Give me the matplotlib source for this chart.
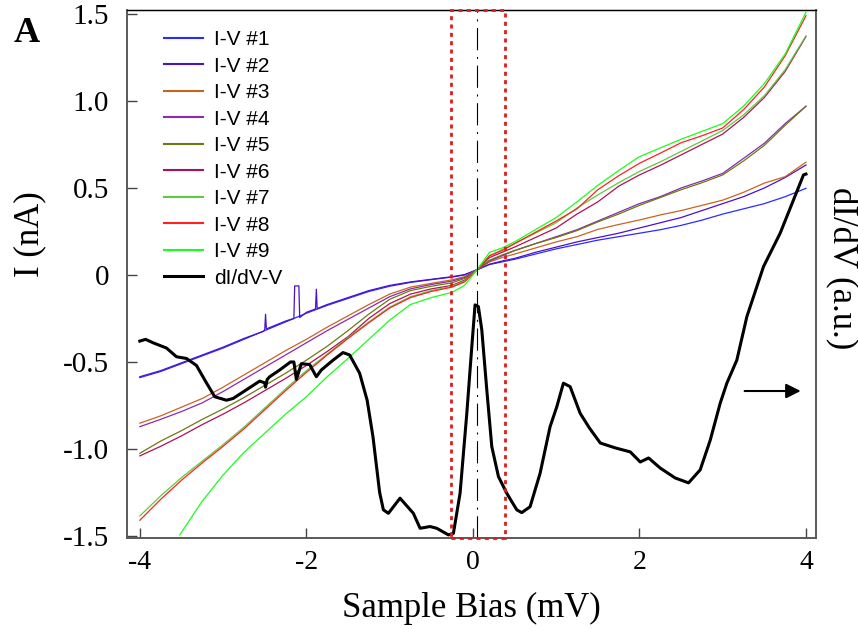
import numpy as np
import matplotlib
matplotlib.use("Agg")
import matplotlib.pyplot as plt
from matplotlib.patches import Rectangle

plt.rcParams['font.family'] = ['Liberation Serif', 'DejaVu Serif']
plt.rcParams['axes.unicode_minus'] = False

# ---- data ----
bias = [-4.0, -3.75, -3.5, -3.25, -3.0, -2.75, -2.5, -2.25, -2.0, -1.75, -1.5, -1.25,
        -1.0, -0.75, -0.5, -0.25, -0.1, 0.05, 0.2, 0.35, 0.5, 0.75, 1.0, 1.25,
        1.5, 1.75, 2.0, 2.25, 2.5, 2.75, 3.0, 3.25, 3.5, 3.75, 4.0]

iv1 = [-0.59, -0.555, -0.51, -0.465, -0.42, -0.37, -0.32, -0.27, -0.22, -0.175, -0.135, -0.095,
       -0.065, -0.043, -0.027, -0.012, 0.0, 0.03, 0.06, 0.075, 0.09, 0.12, 0.15, 0.175,
       0.20, 0.22, 0.24, 0.26, 0.285, 0.315, 0.35, 0.38, 0.41, 0.45, 0.498]

# I-V #2 has its own points because of the spikes on the negative side
bias2 = [-4.0, -3.75, -3.5, -3.25, -3.0, -2.75, -2.52, -2.5, -2.49, -2.48, -2.25, -2.15,
         -2.14, -2.09, -2.08, -2.0, -1.89, -1.88, -1.87, -1.75, -1.5, -1.25,
         -1.0, -0.75, -0.5, -0.25, -0.1, 0.05, 0.2, 0.35, 0.5, 0.75, 1.0, 1.25,
         1.5, 1.75, 2.0, 2.25, 2.5, 2.75, 3.0, 3.25, 3.5, 3.75, 4.0]
iv2 = [-0.585, -0.55, -0.505, -0.46, -0.415, -0.365, -0.325, -0.316, -0.226, -0.31, -0.265, -0.25,
       -0.063, -0.063, -0.245, -0.215, -0.195, -0.082, -0.193, -0.17, -0.13, -0.09,
       -0.06, -0.04, -0.025, -0.01, 0.002, 0.03, 0.062, 0.08, 0.095, 0.13, 0.16, 0.19,
       0.215, 0.24, 0.27, 0.30, 0.33, 0.37, 0.41, 0.45, 0.50, 0.56, 0.632]

iv3 = [-0.852, -0.81, -0.76, -0.71, -0.645, -0.575, -0.505, -0.435, -0.37, -0.30, -0.235, -0.17,
       -0.11, -0.07, -0.048, -0.028, -0.01, 0.03, 0.075, 0.10, 0.12, 0.155, 0.19, 0.22,
       0.262, 0.29, 0.316, 0.345, 0.37, 0.40, 0.43, 0.475, 0.528, 0.565, 0.648]

iv4 = [-0.872, -0.83, -0.785, -0.735, -0.67, -0.60, -0.53, -0.46, -0.39, -0.32, -0.255, -0.19,
       -0.125, -0.08, -0.055, -0.035, -0.015, 0.03, 0.08, 0.11, 0.14, 0.18, 0.22, 0.26,
       0.31, 0.36, 0.41, 0.45, 0.50, 0.54, 0.584, 0.67, 0.757, 0.87, 0.97]

iv5 = [-1.025, -0.955, -0.895, -0.83, -0.77, -0.705, -0.635, -0.565, -0.49, -0.41, -0.32, -0.225,
       -0.14, -0.09, -0.065, -0.045, -0.02, 0.03, 0.085, 0.115, 0.14, 0.18, 0.215, 0.255,
       0.305, 0.35, 0.40, 0.445, 0.49, 0.53, 0.575, 0.655, 0.745, 0.86, 0.97]

iv6 = [-1.04, -0.985, -0.925, -0.86, -0.80, -0.735, -0.665, -0.595, -0.52, -0.44, -0.355, -0.25,
       -0.165, -0.11, -0.08, -0.06, -0.03, 0.03, 0.10, 0.13, 0.16, 0.215, 0.27, 0.35,
       0.42, 0.51, 0.575, 0.63, 0.69, 0.75, 0.81, 0.905, 1.02, 1.17, 1.37]

iv7 = [-1.385, -1.27, -1.165, -1.07, -0.975, -0.875, -0.765, -0.655, -0.55, -0.455, -0.36, -0.27,
       -0.185, -0.125, -0.09, -0.065, -0.035, 0.03, 0.11, 0.145, 0.18, 0.24, 0.30, 0.385,
       0.46, 0.53, 0.595, 0.65, 0.71, 0.77, 0.83, 0.92, 1.03, 1.18, 1.375]

iv8 = [-1.41, -1.29, -1.18, -1.08, -0.985, -0.885, -0.775, -0.665, -0.56, -0.46, -0.365, -0.275,
       -0.19, -0.13, -0.095, -0.07, -0.04, 0.03, 0.11, 0.14, 0.18, 0.245, 0.31, 0.38,
       0.49, 0.57, 0.642, 0.70, 0.76, 0.80, 0.845, 0.95, 1.08, 1.26, 1.49]

bias9 = [-3.52, -3.25, -3.0, -2.75, -2.5, -2.25, -2.0, -1.75, -1.5, -1.25,
         -1.0, -0.75, -0.5, -0.25, -0.1, 0.05, 0.2, 0.35, 0.5, 0.75, 1.0, 1.25,
         1.5, 1.75, 2.0, 2.25, 2.5, 2.75, 3.0, 3.25, 3.5, 3.75, 4.0]
iv9 = [-1.494, -1.30, -1.15, -1.02, -0.91, -0.80, -0.70, -0.585, -0.48, -0.37,
       -0.26, -0.17, -0.13, -0.10, -0.06, 0.03, 0.13, 0.155, 0.19, 0.26, 0.33, 0.42,
       0.515, 0.60, 0.68, 0.73, 0.78, 0.825, 0.87, 0.97, 1.10, 1.27, 1.51]

didv_bias = [-4.0, -3.93, -3.84, -3.68, -3.56, -3.44, -3.32, -3.2, -3.1, -2.96,
             -2.88, -2.72, -2.56, -2.5, -2.49, -2.47, -2.44, -2.32, -2.19, -2.15,
             -2.12, -2.06, -1.96, -1.88, -1.82, -1.68, -1.56, -1.48, -1.36, -1.27,
             -1.2, -1.12, -1.075, -1.015, -0.875, -0.715, -0.634, -0.514, -0.434, -0.294,
             -0.234, -0.154, -0.073, -0.013, 0.026, 0.066, 0.107, 0.167, 0.227, 0.307,
             0.407, 0.527, 0.587, 0.687, 0.807, 0.927, 1.008, 1.087, 1.168, 1.288,
             1.4, 1.53, 1.71, 1.89, 2.01, 2.11, 2.25, 2.43, 2.59, 2.73,
             2.85, 2.97, 3.05, 3.17, 3.29, 3.49, 3.69, 3.85, 3.97, 4.0]
didv = [-0.38, -0.37, -0.39, -0.42, -0.47, -0.48, -0.52, -0.62, -0.70, -0.72,
        -0.71, -0.66, -0.61, -0.62, -0.645, -0.60, -0.585, -0.546, -0.50, -0.50,
        -0.60, -0.51, -0.515, -0.585, -0.546, -0.49, -0.446, -0.46, -0.565, -0.72,
        -0.93, -1.25, -1.35, -1.37, -1.283, -1.37, -1.456, -1.446, -1.456, -1.494,
        -1.485, -1.255, -0.795, -0.412, -0.172, -0.182, -0.316, -0.661, -0.987, -1.159,
        -1.255, -1.35, -1.366, -1.332, -1.14, -0.872, -0.757, -0.622, -0.642, -0.795,
        -0.88, -0.966, -0.994, -1.017, -1.075, -1.052, -1.11, -1.167, -1.195, -1.12,
        -0.95, -0.737, -0.622, -0.489, -0.24, 0.048, 0.24, 0.431, 0.575, 0.58]

labels = ["I-V #1", "I-V #2", "I-V #3", "I-V #4", "I-V #5",
          "I-V #6", "I-V #7", "I-V #8", "I-V #9"]
colors = ["#2b2bff", "#4a10d0", "#c8641e", "#8a2bb0", "#6b7a10",
          "#b0105a", "#5ccc3c", "#ff2020", "#19ff19"]

xticks = [-4, -2, 0, 2, 4]
xticklabels = ["-4", "-2", "0", "2", "4"]
yticks = [1.5, 1.0, 0.5, 0, -0.5, -1.0, -1.5]
yticklabels = ["1.5", "1.0", "0.5", "0", "-0.5", "-1.0", "-1.5"]

gap_lo, gap_hi = -0.26, 0.38   # red dotted window
xlim = (-4.15, 4.12)
ylim = (-1.51, 1.523)

###############################

fig = plt.figure(figsize=(8.58, 6.29), dpi=100)
ax = fig.add_axes([0.1484, 0.1452, 0.8026, 0.8389])

curves = [(bias, iv1), (bias2, iv2), (bias, iv3), (bias, iv4), (bias, iv5),
          (bias, iv6), (bias, iv7), (bias, iv8), (bias9, iv9)]
handles = []
for (xv, yv), lab, col in zip(curves, labels, colors):
    h, = ax.plot(xv, yv, color=col, lw=0.9, label=lab)
    handles.append(h)

ax.set_xlim(*xlim)
ax.set_ylim(*ylim)
ax.set_xticks(xticks)
ax.set_xticklabels(xticklabels)
ax.set_yticks(yticks)
ax.set_yticklabels(yticklabels)
ax.tick_params(direction='in', length=7, width=1, color='#444444', labelsize=20)
ax.tick_params(axis='y', labelsize=21, pad=13)
ax.tick_params(axis='x', pad=9)

for side in ['left', 'bottom', 'right']:
    ax.spines[side].set_color('#555555')
    ax.spines[side].set_linewidth(1.1)
ax.spines['top'].set_color('black')
ax.spines['top'].set_linewidth(1.0)

ax.set_xlabel("Sample Bias (mV)", fontsize=25)
ax.xaxis.set_label_coords(0.5, -0.102)
ax.set_ylabel("I (nA)", fontsize=25)
ax.yaxis.set_label_coords(-0.118, 0.575)

ax.axvline(0.05, color='black', lw=0.8, linestyle=(0, (20, 6, 1.8, 6)), zorder=4)

# dI/dV on the right axis
ax2 = ax.twinx()
ax2.set_ylim(*ylim)
ax2.set_yticks([])
hd, = ax2.plot(didv_bias, didv, color='black', lw=2.2, label="dI/dV-V")
handles.append(hd)
for side in ['left', 'bottom', 'right']:
    ax2.spines[side].set_color('#555555')
    ax2.spines[side].set_linewidth(1.1)
ax2.set_ylabel("dI/dV (a.u.)", fontsize=25, rotation=270, va='bottom')
ax2.yaxis.set_label_coords(1.013, 0.511)

# red dotted window around zero bias, drawn over the frame
ax2.add_patch(Rectangle((gap_lo, ylim[0]), gap_hi - gap_lo, ylim[1] - ylim[0],
                        fill=False, edgecolor='#dd1c1c', lw=2.0,
                        linestyle=(0, (1.45, 1.55)), clip_on=False, zorder=5))

ax2.annotate('', xy=(3.97, -0.667), xytext=(3.23, -0.667),
             arrowprops=dict(arrowstyle='-|>', color='black', lw=1.5,
                             mutation_scale=22))

leg = ax2.legend(handles=handles, loc='upper left', bbox_to_anchor=(0.0533, 0.962),
                 frameon=False, borderpad=0, borderaxespad=0,
                 prop={'family': 'Liberation Sans', 'size': 15},
                 handlelength=1.85, handletextpad=0.55, labelspacing=0.36)
for line in leg.get_lines():
    line.set_linewidth(1.5)
leg.get_lines()[-1].set_linewidth(2.2)

fig.text(14 / 858, 1 - 17 / 629, "A", fontsize=26, fontweight='bold', va='top', ha='left')

fig.savefig("out.png", dpi=100)
